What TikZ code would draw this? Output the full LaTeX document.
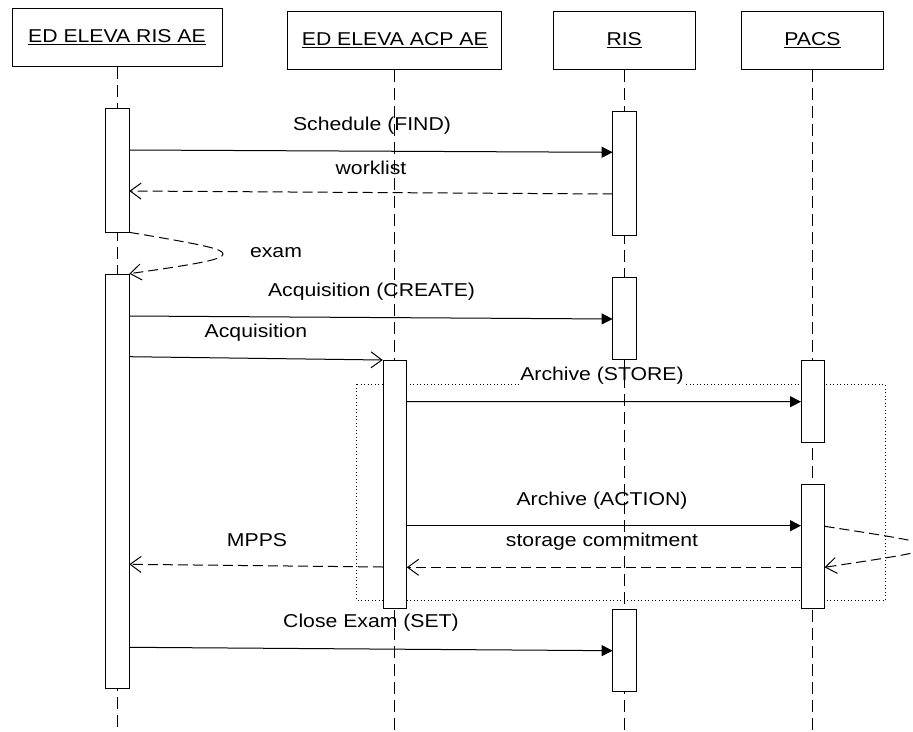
\documentclass[tikz,border=0pt]{standalone}
\usepackage{fontspec}
\setmainfont{Liberation Sans}
\usepackage{graphicx}
\usetikzlibrary{arrows.meta}
\newcommand{\wide}[1]{\scalebox{1.14}[1]{#1}}
\begin{document}
\begin{tikzpicture}[x=1pt,y=-1pt,
  txt/.style={font=\fontsize{18.6}{22}\selectfont, inner sep=0pt},
  hdr/.style={draw, line width=1pt, fill=white, inner sep=0pt, font=\fontsize{18.6}{22}\selectfont},
  life/.style={line width=1pt, dash pattern=on 12pt off 6pt},
  act/.style={draw, line width=1pt, fill=white, minimum width=23.6pt, inner sep=0pt},
  sync/.style={line width=1pt, -{Triangle[length=11pt,width=11pt]}},
  reply/.style={line width=1pt, dash pattern=on 10pt off 5pt, -{Straight Barb[length=11pt,width=16pt]}},
  asyn/.style={line width=1pt, -{Straight Barb[length=11pt,width=16pt]}},
  frag/.style={line width=1pt, dash pattern=on 1pt off 2.5pt}]
\useasboundingbox (0,0) rectangle (913,731);
\clip (0,0) rectangle (913,731);

% header boxes
\node[hdr, minimum width=210pt, minimum height=58.4pt] (h1) at (117,37.5) {\wide{\underline{ED ELEVA RIS AE}}};
\node[hdr, minimum width=213.7pt, minimum height=57.6pt] (h2) at (394.8,40.5) {\wide{\underline{ED ELEVA ACP AE}}};
\node[hdr, minimum width=141.7pt, minimum height=57.6pt] (h3) at (624.2,40.5) {\wide{\underline{RIS}}};
\node[hdr, minimum width=141.6pt, minimum height=57.6pt] (h4) at (812.5,40.5) {\wide{\underline{PACS}}};

% combined fragment (dotted)
\draw[frag] (356.7,384.3) rectangle (885,600.5);
\node[txt, fill=white, inner sep=1pt] (lstore) at (602,376) {\wide{Archive (STORE)}};

% lifelines
\coordinate (e1) at (117.5,731);
\coordinate (e2) at (394.8,731);
\coordinate (e3) at (624.4,731);
\coordinate (e4) at (812.8,731);
\draw[life] (h1.south -| e1) -- (e1);
\draw[life] (h2.south -| e2) -- (e2);
\draw[life] (h3.south -| e3) -- (e3);
\draw[life] (h4.south -| e4) -- (e4);

% activations
\node[act, minimum height=124pt] (a1) at (117.5,170.3) {};
\node[act, minimum height=414.7pt] (a2) at (117.5,481.35) {};
\node[act, minimum height=124.7pt] (r1) at (624.4,173.35) {};
\node[act, minimum height=82pt] (r2) at (624.4,318.3) {};
\node[act, minimum height=82.7pt] (r3) at (624.4,650.35) {};
\node[act, minimum height=248.3pt] (c1) at (394.8,484.15) {};
\node[act, minimum height=82.7pt] (p1) at (812.8,401.35) {};
\node[act, minimum height=124.4pt] (p2) at (812.8,546.5) {};

% message end points
\coordinate (m1s) at (129.3,150);   \coordinate (m1t) at (612.6,152.3);
\coordinate (m2s) at (612.6,194);   \coordinate (m2t) at (129.3,191);
\coordinate (m3s) at (129.3,232.3); \coordinate (m3t) at (129.3,273.7);
\coordinate (m4s) at (129.3,316);   \coordinate (m4t) at (612.6,319);
\coordinate (m5s) at (129.3,356.7); \coordinate (m5t) at (382.8,360);
\coordinate (m6s) at (406.8,401.5); \coordinate (m6t) at (801,401.7);
\coordinate (m7s) at (406.8,525.7); \coordinate (m7t) at (801,525.7);
\coordinate (m8s) at (824.6,526.3); \coordinate (m8t) at (824.6,567.3);
\coordinate (m9s) at (801,567.3);   \coordinate (m9t) at (406.8,567.3);
\coordinate (m10s) at (382.8,567);  \coordinate (m10t) at (129.3,564.3);
\coordinate (m11s) at (129.3,647.3); \coordinate (m11t) at (612.6,650.7);

% messages
\draw[sync] (m1s) -- (m1t);
\draw[reply] (m2s) -- (m2t);
\draw[reply] (m3s) .. controls (205,245) and (223,249) .. (223,254)
                   .. controls (223,259) and (205,263) .. (m3t);
\draw[sync] (m4s) -- (m4t);
\draw[asyn] (m5s) -- (m5t);
\draw[sync] (m6s) -- (m6t);
\draw[sync] (m7s) -- (m7t);
\draw[reply] (m8s) .. controls (904.7,538.6) and (925,542) .. (925,547)
                   .. controls (925,552) and (904.7,555.3) .. (m8t);
\draw[reply] (m9s) -- (m9t);
\draw[reply] (m10s) -- (m10t);
\draw[sync] (m11s) -- (m11t);

% labels
\node[txt] (l1) at (372,126) {\wide{Schedule (FIND)}};
\node[txt] (l2) at (371,168) {\wide{worklist}};
\node[txt] (l3) at (276,253) {\wide{exam}};
\node[txt] (l4) at (371.5,292) {\wide{Acquisition (CREATE)}};
\node[txt] (l5) at (256,333) {\wide{Acquisition}};
\node[txt] (l7) at (602,501) {\wide{Archive (ACTION)}};
\node[txt] (l8) at (602,542) {\wide{storage commitment}};
\node[txt] (l9) at (257,540) {\wide{MPPS}};
\node[txt] (l10) at (371,623) {\wide{Close Exam (SET)}};
\end{tikzpicture}
\end{document}
